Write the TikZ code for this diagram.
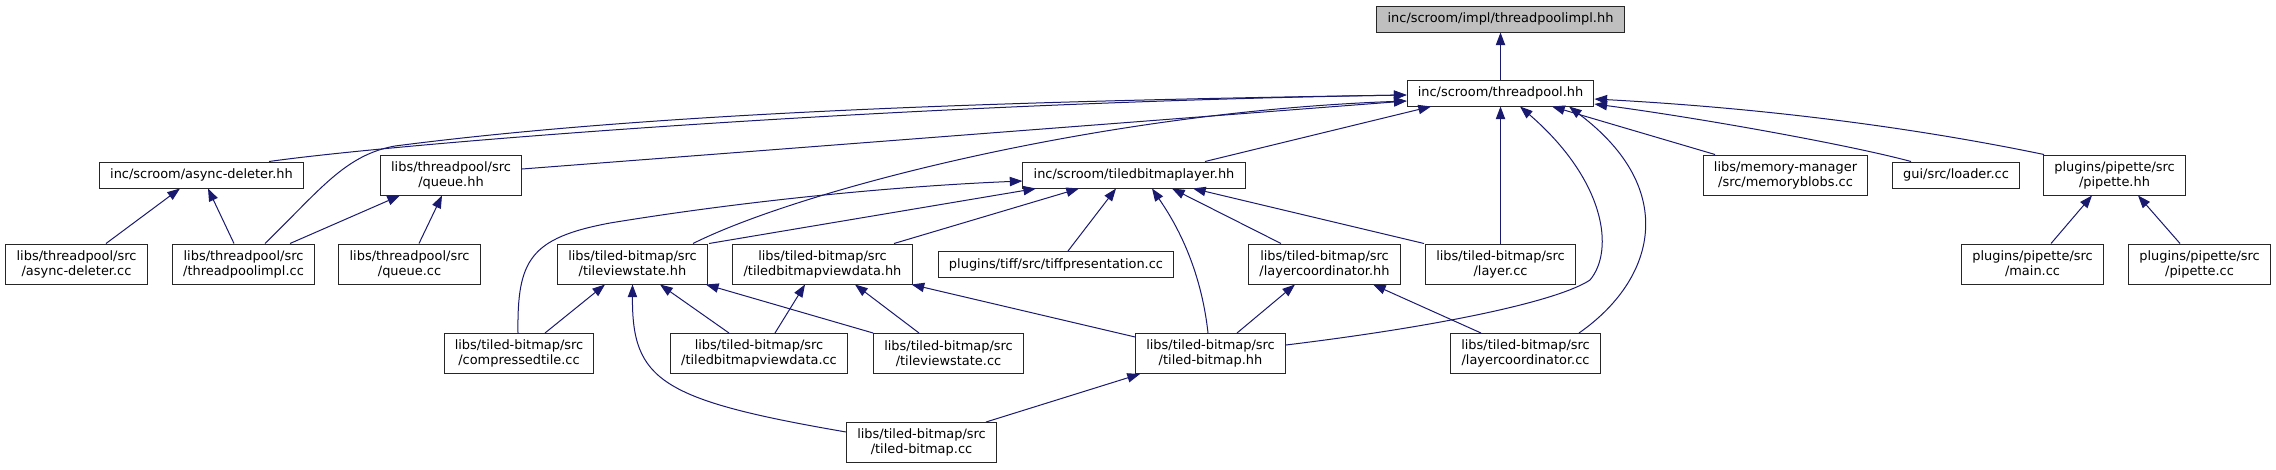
\documentclass[tikz,border=0pt]{standalone}
\usepackage{fontspec}
\setmainfont{DejaVu Sans}
\usepackage{tikz}
\usetikzlibrary{arrows.meta,calc}
\definecolor{edgeblue}{HTML}{191970}
\definecolor{rootgray}{HTML}{BFBFBF}

\begin{document}
\begin{tikzpicture}[x=0.75pt, y=-0.75pt, box/.style={draw=black!85, fill=white, line width=0.75pt, align=center, inner xsep=8pt, inner ysep=4pt, minimum height=19.5pt, font=\fontsize{9.7}{11.25}\selectfont}, tall/.style={minimum height=30pt}, arr/.style={-{Triangle[length=9.5pt, width=7pt]}, draw=edgeblue, line width=0.75pt}]
    \useasboundingbox (0,0) rectangle (2276,469);
    \node[box, fill=rootgray] (impl) at (1500.5,19) {inc/scroom/impl/threadpoolimpl.hh};
    \node[box] (tp) at (1500.5,93) {inc/scroom/threadpool.hh};
    \node[box] (adh) at (201.5,175) {inc/scroom/async-deleter.hh};
    \node[box, tall] (qhh) at (451,175) {libs/threadpool/src\\/queue.hh};
    \node[box] (tbl) at (1134,175) {inc/scroom/tiledbitmaplayer.hh};
    \node[box, tall] (mb) at (1785.5,175) {libs/memory-manager\\/src/memoryblobs.cc};
    \node[box] (ld) at (1956,175) {gui/src/loader.cc};
    \node[box, tall] (pph) at (2114.5,175) {plugins/pipette/src\\/pipette.hh};
    \node[box, tall] (adcc) at (76.5,264) {libs/threadpool/src\\/async-deleter.cc};
    \node[box, tall] (tpicc) at (243.5,264) {libs/threadpool/src\\/threadpoolimpl.cc};
    \node[box, tall] (qcc) at (409.5,264) {libs/threadpool/src\\/queue.cc};
    \node[box, tall] (tvs) at (632.5,264) {libs/tiled-bitmap/src\\/tileviewstate.hh};
    \node[box, tall] (tbvd) at (822.5,264) {libs/tiled-bitmap/src\\/tiledbitmapviewdata.hh};
    \node[box] (tiff) at (1056,264.5) {plugins/tiff/src/tiffpresentation.cc};
    \node[box, tall] (lch) at (1324.5,264) {libs/tiled-bitmap/src\\/layercoordinator.hh};
    \node[box, tall] (layer) at (1500.5,264) {libs/tiled-bitmap/src\\/layer.cc};
    \node[box, tall] (pmain) at (2032.5,264) {plugins/pipette/src\\/main.cc};
    \node[box, tall] (ppcc) at (2199.5,264) {plugins/pipette/src\\/pipette.cc};
    \node[box, tall] (ctile) at (519,353.5) {libs/tiled-bitmap/src\\/compressedtile.cc};
    \node[box, tall] (tbvdcc) at (759,353.5) {libs/tiled-bitmap/src\\/tiledbitmapviewdata.cc};
    \node[box, tall] (tvscc) at (948.5,353.5) {libs/tiled-bitmap/src\\/tileviewstate.cc};
    \node[box, tall] (tbhh) at (1210.5,353.5) {libs/tiled-bitmap/src\\/tiled-bitmap.hh};
    \node[box, tall] (lccc) at (1525.5,353.5) {libs/tiled-bitmap/src\\/layercoordinator.cc};
    \node[box, tall] (tbcc) at (921.5,442.5) {libs/tiled-bitmap/src\\/tiled-bitmap.cc};
    \draw[arr] (tp.north) -- (impl.south);
    \draw[arr] ($(adh.north)+(67.5,0)$) .. controls (400,143) and (900,103) .. ($(tp.west)+(0,2)$);
    \draw[arr] ($(tpicc.north)+(21.5,0)$) .. controls (320,190) and (345,155) .. (395,146) .. controls (650,113) and (1000,101) .. ($(tp.west)+(0,2)$);
    \draw[arr] ($(qhh.east)+(0,-6)$) -- ($(tp.west)+(0,8)$);
    \draw[arr] ($(tvs.north)+(60.5,0)$) .. controls (800,190) and (1100,112) .. ($(tp.west)+(0,8)$);
    \draw[arr] ($(tbl.north)+(71,0)$) -- ($(tp.south)+(-69.5,0)$);
    \draw[arr] ($(tbhh.east)+(0,-8.5)$) .. controls (1450,325) and (1560,300) .. (1590,280) .. controls (1615,250) and (1605,180) .. ($(tp.south)+(19.5,0)$);
    \draw[arr] (layer.north) -- (layer.north |- tp.south);
    \draw[arr] ($(mb.north)+(-70.5,0)$) -- ($(tp.south)+(51.5,0)$);
    \draw[arr] ($(lccc.north)+(53.5,0)$) .. controls (1655,280) and (1680,190) .. ($(tp.south)+(68.5,0)$);
    \draw[arr] ($(ld.north)+(-45,0)$) .. controls (1850,145) and (1700,118) .. ($(tp.east)+(0,11)$);
    \draw[arr] ($(pph.north)+(-70.5,0)$) .. controls (1950,135) and (1800,110) .. ($(tp.east)+(0,6)$);
    \draw[arr] ($(tvs.north)+(76.5,0)$) -- ($(tbl.south)+(-98,0)$);
    \draw[arr] ($(tbvd.north)+(71.5,0)$) -- ($(tbl.south)+(-55,0)$);
    \draw[arr] ($(tiff.north)+(12,0)$) -- ($(tbl.south)+(-18,0)$);
    \draw[arr] ($(tbhh.north)+(-2.5,0)$) .. controls (1200,260) and (1170,215) .. ($(tbl.south)+(18,0)$);
    \draw[arr] ($(lch.north)+(-43.5,0)$) -- ($(tbl.south)+(38,0)$);
    \draw[arr] ($(layer.north)+(-76.5,0)$) -- ($(tbl.south)+(59,0)$);
    \draw[arr] ($(ctile.north)+(-1,0)$) .. controls (517,260) and (530,238) .. (610,223) .. controls (750,200) and (900,186) .. ($(tbl.west)+(0,6)$);
    \draw[arr] ($(adcc.north)+(29.5,0)$) -- ($(adh.south)+(-21.5,0)$);
    \draw[arr] ($(tpicc.north)+(-9.5,0)$) -- ($(adh.south)+(6.5,0)$);
    \draw[arr] ($(tpicc.north)+(46.5,0)$) -- ($(qhh.south)+(-51,0)$);
    \draw[arr] ($(qcc.north)+(9.5,0)$) -- ($(qhh.south)+(-9,0)$);
    \draw[arr] ($(pmain.north)+(18.5,0)$) -- ($(pph.south)+(-22.5,0)$);
    \draw[arr] ($(ppcc.north)+(-19.5,0)$) -- ($(pph.south)+(23.5,0)$);
    \draw[arr] ($(ctile.north)+(26,0)$) -- ($(tvs.south)+(-27.5,0)$);
    \draw[arr] ($(tbvdcc.north)+(-30,0)$) -- ($(tvs.south)+(27.5,0)$);
    \draw[arr] (tvscc.north west) -- ($(tvs.south east)+(-2,0)$);
    \draw[arr] ($(tbcc.west)+(0,-10.5)$) .. controls (660,400) and (632,380) .. (tvs.south);
    \draw[arr] ($(tbvdcc.north)+(16,0)$) -- ($(tbvd.south)+(-17.5,0)$);
    \draw[arr] ($(tvscc.north)+(-29.5,0)$) -- ($(tbvd.south)+(32.5,0)$);
    \draw[arr] ($(tbhh.west)+(0,-16.5)$) -- ($(tbvd.south east)+(-1,0)$);
    \draw[arr] ($(tbhh.north)+(26.5,0)$) -- ($(lch.south)+(-29.5,0)$);
    \draw[arr] ($(lccc.north)+(-44.5,0)$) -- ($(lch.south)+(48.5,0)$);
    \draw[arr] ($(tbcc.north)+(64.5,0)$) -- ($(tbhh.south)+(-70.5,0)$);
\end{tikzpicture}
\end{document}
